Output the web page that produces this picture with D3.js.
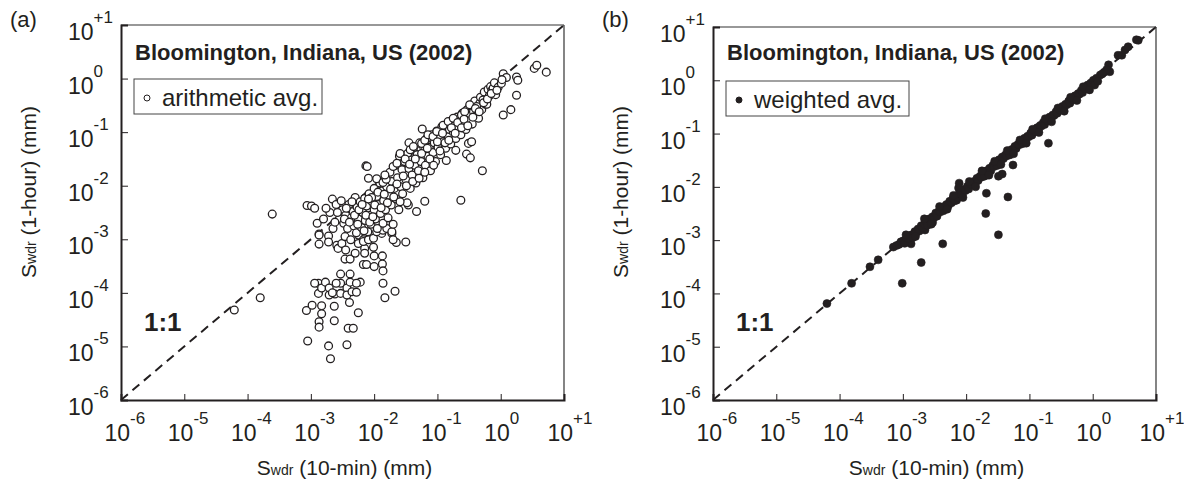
<!DOCTYPE html>
<html>
<head>
<meta charset="utf-8">
<script src="https://cdn.jsdelivr.net/npm/d3@7"></script>
<style>
  body { margin: 0; background: #fff; }
  text { font-family: "Liberation Sans", Arial, Helvetica, sans-serif; fill: #231f20; }
</style>
</head>
<body>
<div id="chart"></div>
<script>
/// Data: every point is [log10 Swdr(10-min), log10 Swdr(1-hour)], both in mm ///
var decades = [-6, -5, -4, -3, -2, -1, 0, 1];
var decadeLabels = ["-6", "-5", "-4", "-3", "-2", "-1", "0", "+1"];

var arithmeticAvg = [
  [-4.21,-4.32],[-3.80,-4.09],[-3.61,-2.53],
  [-3.06,-2.37],[-2.99,-2.38],[-2.94,-2.42],[-2.87,-2.90],[-2.87,-3.09],[-2.72,-2.94],[-2.65,-2.80],
  [-2.70,-2.50],[-2.66,-2.25],[-2.72,-3.05],[-2.87,-2.92],[-2.59,-3.11],[-2.57,-3.17],[-2.51,-3.08],
  [-2.46,-2.95],[-2.37,-3.01],[-2.25,-2.92],[-2.25,-3.08],[-2.17,-3.01],[-2.15,-3.17],[-2.08,-3.00],
  [-2.01,-3.15],[-1.88,-2.89],[-1.72,-2.89],[-1.65,-3.06],[-1.50,-3.05],[-2.45,-3.20],[-2.46,-3.37],
  [-2.38,-3.37],[-2.30,-3.26],[-2.15,-3.26],[-2.17,-3.47],[-2.12,-3.47],[-2.00,-3.31],[-2.00,-3.51],
  [-1.87,-3.31],[-1.87,-3.46],[-1.86,-3.59],[-1.86,-3.82],[-1.67,-3.97],[-1.83,-4.09],
  [-3.07,-4.33],[-2.98,-4.23],[-3.05,-4.90],[-2.88,-3.82],[-2.88,-4.01],[-2.83,-3.91],[-2.83,-4.24],
  [-2.83,-4.39],[-2.87,-4.54],[-2.87,-4.64],[-2.72,-4.99],[-2.69,-5.23],[-2.63,-4.52],[-2.63,-4.25],
  [-2.77,-3.80],[-2.71,-3.91],[-2.71,-4.04],[-2.62,-4.02],[-2.53,-3.65],[-2.38,-3.65],[-2.53,-3.82],
  [-2.53,-4.01],[-2.43,-3.91],[-2.38,-3.80],[-2.43,-4.04],[-2.39,-4.18],[-2.35,-3.98],[-2.28,-3.99],
  [-2.22,-3.80],[-2.28,-3.82],[-2.25,-4.37],[-2.41,-4.66],[-2.33,-4.66],[-2.43,-4.97],[-2.94,-3.82],
  [-2.60,-3.82],[-2.66,-4.00],
  [-2.17,-3.04],[-2.09,-3.01],[-2.01,-2.98],[-1.96,-2.86],[-1.91,-2.80],[-1.86,-2.83],[-1.80,-2.80],
  [-1.72,-2.86],[-1.70,-3.01],[-1.20,-2.29],[-1.33,-2.48],[-1.46,-2.36],
  [-2.60,-2.35],[-2.55,-2.62],[-2.50,-2.45],[-2.48,-2.70],[-2.45,-2.55],[-2.42,-2.80],[-2.40,-2.35],
  [-2.36,-2.60],[-2.33,-2.48],[-2.32,-2.75],[-2.30,-2.22],[-2.28,-2.88],[-2.27,-2.40],[-2.25,-2.62],
  [-2.22,-2.30],[-2.20,-2.78],[-2.18,-2.50],[-2.15,-2.24],[-2.14,-2.65],[-2.12,-2.38],[-2.10,-2.86],
  [-2.08,-2.15],[-2.06,-2.55],[-2.05,-2.72],[-2.03,-2.30],[-2.00,-2.45],[-2.00,-2.05],[-1.98,-2.62],
  [-1.96,-2.20],[-1.95,-2.80],[-1.93,-2.35],[-1.91,-1.95],[-1.90,-2.52],[-1.88,-2.10],[-1.86,-2.70],
  [-1.85,-2.28],[-1.83,-1.85],[-1.82,-2.45],[-1.80,-2.02],[-1.78,-2.60],[-1.77,-2.18],[-1.75,-1.75],
  [-1.73,-2.36],[-1.72,-1.92],[-1.70,-2.72],[-1.68,-2.05],[-1.66,-1.62],[-1.65,-2.25],[-1.63,-1.85],
  [-1.61,-2.45],[-1.60,-1.45],[-1.58,-2.02],[-1.56,-1.70],[-1.55,-2.15],[-1.52,-1.55],[-1.50,-1.88],
  [-1.48,-2.32],[-1.47,-1.40],[-1.45,-1.68],[-1.43,-2.05],[-1.41,-1.52],[-1.40,-1.80],[-1.38,-1.30],
  [-1.36,-1.62],[-1.34,-1.95],[-1.32,-1.42],[-1.30,-1.72],[-1.28,-1.20],[-1.26,-1.55],[-1.24,-0.94],
  [-1.23,-1.85],[-1.21,-1.35],[-1.19,-1.62],[-1.17,-1.12],[-1.15,-1.45],[-1.13,-1.28],[-1.11,-1.72],
  [-1.09,-1.05],[-1.07,-1.38],[-1.05,-1.20],[-1.03,-1.55],[-1.01,-0.98],[-0.99,-1.28],[-0.97,-1.10],
  [-0.95,-1.42],[-0.93,-0.90],[-0.91,-1.18],[-0.89,-1.02],[-0.87,-1.30],[-0.86,-1.53],[-0.85,-0.85],
  [-0.83,-1.08],[-0.81,-0.95],[-0.79,-1.22],[-0.77,-0.80],[-0.75,-1.00],[-0.73,-0.88],[-0.71,-1.34],
  [-0.71,-1.12],[-0.69,-0.72],[-0.67,-0.92],[-0.65,-0.80],[-0.63,-1.05],[-0.61,-0.65],[-0.59,-0.85],
  [-0.57,-0.72],[-0.55,-0.95],[-0.54,-1.41],[-0.53,-0.58],[-0.51,-0.78],[-0.51,-1.21],[-0.48,-1.48],
  [-0.46,-1.18],[-0.49,-0.65],[-0.47,-0.50],[-0.45,-0.85],[-0.43,-0.62],[-0.41,-0.42],[-0.39,-0.70],
  [-0.37,-0.52],[-0.35,-0.74],[-0.33,-0.46],[-0.32,-0.35],[-0.30,-0.58],[-0.28,-0.40],[-0.26,-0.25],
  [-0.24,-0.48],[-0.22,-0.48],[-0.20,-0.20],[-0.18,-0.32],[-0.16,-0.15],[-0.14,-0.22],[-0.12,-0.18],
  [-0.10,-0.08],[-0.08,-0.30],[-0.04,-0.16],[0.01,-0.09],[0.04,0.09],[0.09,0.02],[0.04,-0.68],
  [0.16,-0.58],[0.25,0.03],[0.27,-0.03],[0.25,-0.31],[0.53,0.19],[0.57,0.25],[0.72,0.12],
  [-0.29,-1.72],[-0.63,-2.27],[-1.45,-1.20],[-2.09,-1.86],[-2.13,-1.63],[-2.11,-1.64],
  [-1.96,-1.87],[-1.86,-1.94],[-1.81,-1.88],[-1.83,-1.80],[-1.70,-1.64],[-1.64,-1.58],[-1.59,-1.40],
  [-1.51,-1.50],[-1.43,-1.33],[-1.38,-1.27],[-1.25,-1.21],[-1.20,-1.15],[-1.15,-1.05],[-1.07,-1.08],
  [-1.01,-0.99],[-0.91,-0.87],[-0.83,-0.80],[-0.75,-0.74],[-0.62,-0.68],[-0.57,-0.62],[-0.49,-0.49],
  [-0.38,-0.52],
  [-2.04,-2.22],[-1.99,-2.36],[-1.94,-2.12],[-1.89,-2.41],[-1.84,-2.16],[-1.79,-2.32],[-1.74,-2.06],
  [-1.69,-2.21],[-1.64,-1.97],[-1.59,-2.30],[-1.54,-1.82],[-1.49,-2.00],[-1.44,-1.60],[-1.39,-1.92],
  [-1.35,-1.50],[-1.29,-1.86],[-1.25,-1.40],[-1.20,-1.75],[-1.16,-1.30],[-1.12,-1.50],[-1.06,-1.62],
  [-1.00,-1.18],[-0.96,-1.35],[-0.92,-1.02],[-0.88,-1.20],[-0.82,-1.15],[-0.78,-0.92],[-0.72,-1.02],
  [-0.68,-0.82],[-0.62,-0.92],[-0.58,-0.76],[-0.52,-0.88],[-0.44,-0.72],[-0.40,-0.56],[-0.34,-0.62],
  [-0.27,-0.45],[-0.21,-0.38],[-0.15,-0.28],[-0.06,-0.22],[0.02,-0.02],
  [-2.58,-2.50],[-2.52,-2.28],[-2.47,-2.62],[-2.44,-2.42],[-2.39,-2.68],[-2.35,-2.30],[-2.31,-2.55],
  [-2.26,-2.72],[-2.24,-2.45],[-2.19,-2.35],[-2.16,-2.84],[-2.13,-2.55],[-2.09,-2.25],[-2.07,-2.68],
  [-2.02,-2.58],[-2.90,-2.70],[-2.80,-2.62],[-2.76,-2.42],[-2.62,-2.68]
];

var weightedAvg = [
  [-4.20,-4.19],[-3.81,-3.81],[-3.52,-3.50],[-3.39,-3.37],[-3.01,-3.81],[-2.71,-3.42],[-2.37,-3.07],
  [-2.87,-3.07],[-2.65,-2.81],[-2.53,-2.67],[-1.69,-2.50],[-1.49,-2.90],[-1.68,-2.12],[-1.34,-2.19],
  [-1.49,-1.80],[-1.43,-1.76],[-1.26,-1.59],[-2.11,-1.93],[-2.15,-2.25],[-0.70,-1.18],
  [0.40,0.47],[0.46,0.47],[0.51,0.57],[0.56,0.63],[0.69,0.76],[0.72,0.75],
  [-3.15,-3.13],[-3.10,-3.10],[-3.06,-3.08],[-3.03,-3.03],[-2.99,-3.01],[-2.97,-3.06],[-2.94,-2.96],
  [-2.91,-2.97],[-2.89,-2.92],[-2.86,-2.90],[-2.84,-2.95],[-2.81,-2.84],[-2.79,-2.86],[-2.76,-2.79],
  [-2.74,-2.83],[-2.71,-2.73],[-2.69,-2.76],[-2.66,-2.70],[-2.63,-2.66],[-2.61,-2.72],[-2.58,-2.60],
  [-2.56,-2.63],[-2.53,-2.56],[-2.51,-2.58],[-2.48,-2.49],[-2.46,-2.55],[-2.43,-2.46],[-2.41,-2.47],
  [-2.38,-2.40],[-2.36,-2.45],[-2.33,-2.36],[-2.31,-2.33],[-2.28,-2.35],[-2.26,-2.27],[-2.23,-2.30],
  [-2.21,-2.22],[-2.18,-2.26],[-2.16,-2.17],[-2.13,-2.20],[-2.12,-2.02],[-2.11,-2.13],[-2.08,-2.10],
  [-2.06,-2.15],[-2.03,-2.05],[-2.01,-2.07],[-1.98,-1.99],[-1.96,-2.04],[-1.93,-1.95],[-1.91,-1.96],
  [-1.88,-1.90],[-1.86,-1.95],[-1.83,-1.84],[-1.81,-1.88],[-1.78,-1.80],[-1.76,-1.82],[-1.73,-1.74],
  [-1.71,-1.80],[-1.68,-1.70],[-1.66,-1.72],[-1.63,-1.65],[-1.61,-1.70],[-1.58,-1.60],[-1.56,-1.62],
  [-1.53,-1.55],[-1.51,-1.60],[-1.48,-1.49],[-1.46,-1.53],[-1.43,-1.44],[-1.41,-1.47],[-1.38,-1.40],
  [-1.36,-1.42],[-1.33,-1.35],[-1.31,-1.40],[-1.28,-1.30],[-1.26,-1.31],[-1.23,-1.24],[-1.21,-1.28],
  [-1.18,-1.20],[-1.16,-1.21],[-1.13,-1.15],[-1.11,-1.19],[-1.08,-1.09],[-1.06,-1.12],[-1.03,-1.05],
  [-1.01,-1.06],[-0.98,-0.99],[-0.96,-1.03],[-0.93,-0.95],[-0.91,-0.96],[-0.88,-0.89],[-0.86,-0.94],
  [-0.83,-0.85],[-0.81,-0.86],[-0.78,-0.79],[-0.76,-0.83],[-0.73,-0.75],[-0.71,-0.76],[-0.68,-0.69],
  [-0.66,-0.73],[-0.63,-0.65],[-0.61,-0.66],[-0.58,-0.59],[-0.56,-0.62],[-0.53,-0.55],[-0.51,-0.56],
  [-0.48,-0.49],[-0.46,-0.53],[-0.43,-0.45],[-0.41,-0.46],[-0.38,-0.39],[-0.36,-0.43],[-0.33,-0.35],
  [-0.31,-0.36],[-0.28,-0.29],[-0.26,-0.33],[-0.23,-0.25],[-0.21,-0.26],[-0.18,-0.19],[-0.16,-0.23],
  [-0.13,-0.15],[-0.11,-0.16],[-0.08,-0.09],[-0.06,-0.13],[-0.03,-0.05],[0.01,0.00],[0.03,-0.09],
  [0.06,0.04],[0.12,0.10],[0.18,0.15],[0.25,0.29],[0.27,0.16],[0.22,0.20],
  [-2.95,-2.90],[-2.80,-2.93],[-2.66,-2.60],[-2.55,-2.70],[-2.42,-2.37],[-2.30,-2.42],[-2.20,-2.16],
  [-2.05,-2.20],[-1.95,-1.90],[-1.85,-2.00],[-1.75,-1.70],[-1.64,-1.78],[-1.55,-1.52],[-1.45,-1.58],
  [-1.35,-1.32],[-1.25,-1.38],[-1.15,-1.12],[-1.05,-1.18],[-0.95,-0.92],[-0.85,-0.98],[-0.75,-0.72],
  [-0.65,-0.78],[-0.55,-0.52],[-0.45,-0.58],[-0.35,-0.32],[-0.25,-0.38],[-0.15,-0.12],[-0.05,-0.18],
  [0.08,-0.02],[0.15,0.12]
];

var titleText = "Bloomington, Indiana, US (2002)";

/// Layout of the two panels ///
var panels = [
  { tag: "(a)", left: 121, right: 564, top: 25, bottom: 400, data: arithmeticAvg,
    legend: "arithmetic avg.", filled: false, legendW: 188 },
  { tag: "(b)", left: 713, right: 1156, top: 27, bottom: 400, data: weightedAvg,
    legend: "weighted avg.", filled: true, legendW: 183 }
];

var svg = d3.select("#chart")
    .append("svg")
    .attr("width", 1184)
    .attr("height", 484);

var ink = "#231f20";

panels.forEach(function (p) {
    var g = svg.append("g");
    var dx = p.left - 121;   // shift of panel (b) relative to panel (a)

    var x = d3.scaleLog().domain([1e-6, 10]).range([p.left, p.right]);
    var y = d3.scaleLog().domain([1e-6, 10]).range([p.bottom, p.top]);
    var tickVals = decades.map(function (d) { return Math.pow(10, d); });

    // 1:1 dashed line
    g.append("line")
        .attr("x1", x(1e-6)).attr("y1", y(1e-6))
        .attr("x2", x(10)).attr("y2", y(10))
        .attr("stroke", ink)
        .attr("stroke-width", 2)
        .attr("stroke-dasharray", "9,6");

    // markers
    g.append("g").selectAll("circle")
        .data(p.data)
        .enter()
        .append("circle")
        .attr("cx", d => x(Math.pow(10, d[0])))
        .attr("cy", d => y(Math.pow(10, d[1])))
        .attr("r", p.filled ? 4 : 3.9)
        .attr("fill", p.filled ? ink : "#fff")
        .attr("stroke", ink)
        .attr("stroke-width", p.filled ? 0.6 : 1.3);

    // frame: thin top/right, heavier left/bottom
    g.append("line").attr("x1", p.left).attr("x2", p.right).attr("y1", p.top).attr("y2", p.top)
        .attr("stroke", "#333").attr("stroke-width", 1.2);
    g.append("line").attr("x1", p.right).attr("x2", p.right).attr("y1", p.top).attr("y2", p.bottom)
        .attr("stroke", "#333").attr("stroke-width", 1.2);

    // ticks (inward) through d3 axes, labels are drawn separately
    var xAxis = g.append("g").attr("transform", `translate(0, ${p.bottom})`)
        .call(d3.axisBottom(x).tickValues(tickVals).tickSize(-6).tickFormat(""));
    var yAxis = g.append("g").attr("transform", `translate(${p.left}, 0)`)
        .call(d3.axisLeft(y).tickValues(tickVals).tickSize(-7).tickFormat(""));
    [xAxis, yAxis].forEach(function (ax) {
        ax.select(".domain").attr("stroke", ink).attr("stroke-width", 2);
        ax.selectAll(".tick line").attr("stroke", ink).attr("stroke-width", 1);
    });

    // x tick labels 10^n
    var xl = g.append("g").selectAll("text")
        .data(decades)
        .enter()
        .append("text")
        .attr("x", (d, i) => x(tickVals[i]) - 16.5)
        .attr("y", p.bottom + 41)
        .attr("font-size", 23);
    xl.append("tspan").text("10");
    xl.append("tspan").attr("dy", -17).attr("font-size", 17).text((d, i) => decadeLabels[i]);

    // y tick labels 10^n
    var yl = g.append("g").selectAll("text")
        .data(decades)
        .enter()
        .append("text")
        .attr("x", p.left - 53)
        .attr("y", (d, i) => y(tickVals[i]) + 15)
        .attr("font-size", 23);
    yl.append("tspan").text("10");
    yl.append("tspan").attr("dy", -17).attr("font-size", 17).text((d, i) => decadeLabels[i]);

    // axis titles
    var xt = g.append("text")
        .attr("x", (p.left + p.right) / 2 + 2)
        .attr("y", 475)
        .attr("text-anchor", "middle")
        .attr("font-size", 21);
    xt.append("tspan").text("S");
    xt.append("tspan").attr("font-size", 14).text("wdr");
    xt.append("tspan").text(" (10-min) (mm)");

    var yt = g.append("text")
        .attr("transform", `translate(${36 + dx}, 192) rotate(-90)`)
        .attr("text-anchor", "middle")
        .attr("font-size", 21);
    yt.append("tspan").text("S");
    yt.append("tspan").attr("font-size", 14).text("wdr");
    yt.append("tspan").text(" (1-hour) (mm)");

    // panel tag
    g.append("text")
        .attr("x", 10 + dx)
        .attr("y", 27)
        .attr("font-size", 22)
        .text(p.tag);

    // site title
    g.append("text")
        .attr("x", p.left + 14)
        .attr("y", 60)
        .attr("font-size", 22)
        .attr("font-weight", "bold")
        .text(titleText);

    // legend box
    var ly0 = p.top + 54;
    g.append("rect")
        .attr("x", p.left + 13)
        .attr("y", ly0)
        .attr("width", p.legendW)
        .attr("height", 35)
        .attr("fill", "#fff")
        .attr("stroke", "#444")
        .attr("stroke-width", 1);
    g.append("circle")
        .attr("cx", p.left + 26)
        .attr("cy", ly0 + 19)
        .attr("r", 3)
        .attr("fill", p.filled ? ink : "#fff")
        .attr("stroke", ink)
        .attr("stroke-width", 1);
    g.append("text")
        .attr("x", p.left + 41)
        .attr("y", ly0 + 27)
        .attr("font-size", 24)
        .text(p.legend);

    // 1:1 label
    g.append("text")
        .attr("x", p.left + 23)
        .attr("y", 331)
        .attr("font-size", 26)
        .attr("font-weight", "bold")
        .text("1:1");
});
</script>
</body>
</html>
